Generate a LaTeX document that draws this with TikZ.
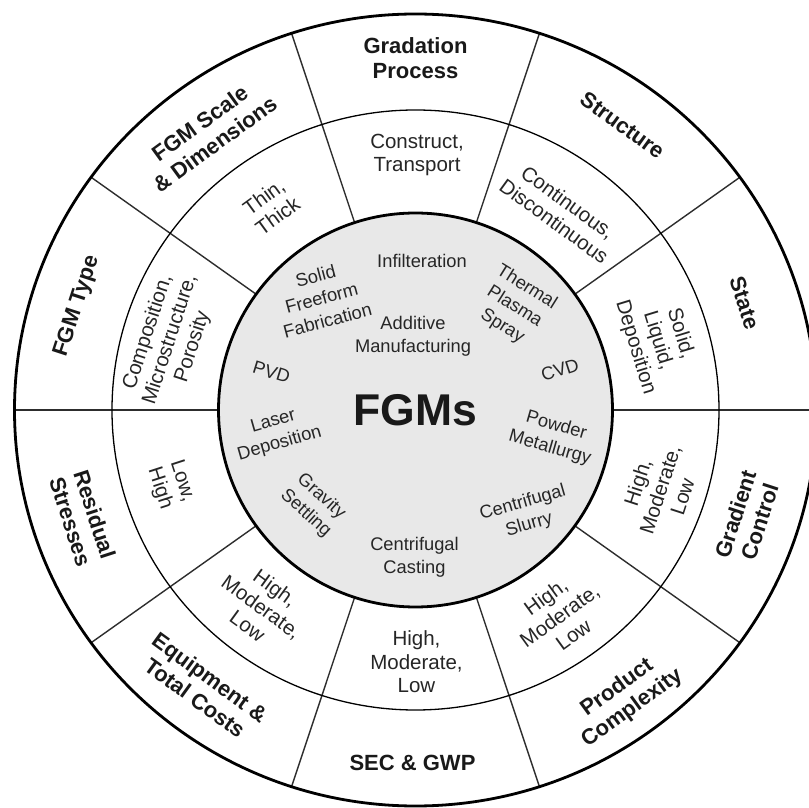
\documentclass[tikz,border=0pt]{standalone}
\usepackage{fontspec}
\setmainfont{Liberation Sans}
\usepackage{xcolor}
\usepackage{tikz}

\definecolor{hubgray}{RGB}{232,232,232}
\definecolor{rulegray}{RGB}{45,45,45}
\tikzset{
  outerlbl/.style={align=center,inner sep=1pt,text=black!90,
    font=\fontsize{22}{25.5}\selectfont\bfseries},
  midlbl/.style={align=center,inner sep=1pt,text=black!85,
    font=\fontsize{20.5}{23.5}\selectfont},
  hublbl/.style={align=center,inner sep=1pt,text=black!85,
    font=\fontsize{18.3}{23}\selectfont},
}

\begin{document}
\begin{tikzpicture}[x=1pt,y=1pt]
  \useasboundingbox (-415.5,-398) rectangle (393.5,410);
  \clip (-415.5,-398) rectangle (393.5,410);
  \fill[white] (-415.5,-398) rectangle (393.5,410);

  % hub
  \fill[hubgray] (0,0) circle[radius=197pt];

  % sector dividers
  \foreach \i in {0,...,9}{
    \coordinate (in\i) at (\i*36:197pt);
    \coordinate (out\i) at (\i*36:401pt and 396pt);
    \draw[rulegray,line width=1.4pt] (in\i) -- (out\i);
  }

  % rings
  \draw[line width=1.3pt] (0,0) ellipse[x radius=303.5pt,y radius=300pt];
  \draw[line width=2.8pt] (0,0) ellipse[x radius=401pt,y radius=396pt];
  \draw[line width=2.8pt] (0,0) circle[radius=197pt];

  % outer ring
  \node[outerlbl] (grad) at (0,352) {Gradation\\Process};
  \node[outerlbl,rotate=-36] (struct) at (54:352pt) {Structure};
  \node[outerlbl,rotate=-72] (state) at (18:346pt) {State};
  \node[outerlbl,rotate=72] (gradctl) at (-18:349pt) {Gradient\\Control};
  \node[outerlbl,rotate=36] (prodcx) at (-54:356pt) {Product\\Complexity};
  \node[outerlbl] (secgwp) at (-3,-353) {SEC \& GWP};
  \node[outerlbl,rotate=-36] (equip) at (232.5:350pt) {Equipment \&\\Total Costs};
  \node[outerlbl,rotate=-72] (resid) at (198:350pt) {Residual\\Stresses};
  \node[outerlbl,rotate=72] (fgmtype) at (163:354pt) {FGM Type};
  \node[outerlbl,rotate=36] (scale) at (127:346pt) {FGM Scale\\\& Dimensions};

  % middle ring
  \node[midlbl] (mgrad) at (1.5,255) {Construct,\\Transport};
  \node[midlbl,rotate=-36] (mstruct) at (53.7:246pt) {Continuous,\\Discontinuous};
  \node[midlbl,rotate=-73] (mstate) at (16:252pt) {Solid,\\Liquid,\\Deposition};
  \node[midlbl,rotate=72] (mgradctl) at (-18:257pt) {High,\\Moderate,\\Low};
  \node[midlbl,rotate=36] (mprodcx) at (-55:251pt) {High,\\Moderate,\\Low};
  \node[midlbl] (msecgwp) at (1,-252) {High,\\Moderate,\\Low};
  \node[midlbl,rotate=-36] (mequip) at (232:250pt) {High,\\Moderate,\\Low};
  \node[midlbl,rotate=-72] (mresid) at (197:256pt) {Low,\\High};
  \node[midlbl,rotate=72] (mfgmtype) at (164:255pt) {Composition,\\Microstructure,\\Porosity};
  \node[midlbl,rotate=36] (mscale) at (125.4:250pt) {Thin,\\Thick};

  % hub methods
  \node[font=\fontsize{44.5}{48}\selectfont\bfseries,text=black!90] (fgms) at (0,0) {FGMs};
  \node[hublbl] (infil) at (6.5,149) {Infilteration};
  \node[hublbl,rotate=15] (sff) at (-94,112) {Solid\\Freeform\\Fabrication};
  \node[hublbl] (addman) at (-2.5,74) {Additive\\Manufacturing};
  \node[hublbl,rotate=-32] (tps) at (99,103) {Thermal\\Plasma\\Spray};
  \node[hublbl,rotate=18] (cvd) at (144.5,40) {CVD};
  \node[hublbl,rotate=-16] (powder) at (137.5,-27) {Powder\\Metallurgy};
  \node[hublbl,rotate=16] (cslurry) at (110.5,-104) {Centrifugal\\Slurry};
  \node[hublbl] (ccast) at (-1,-147) {Centrifugal\\Casting};
  \node[hublbl,rotate=-42] (gravity) at (-102,-95) {Gravity\\Settling};
  \node[hublbl,rotate=16] (laser) at (-139,-23) {Laser\\Deposition};
  \node[hublbl,rotate=-17] (pvd) at (-144,38) {PVD};
\end{tikzpicture}
\end{document}
